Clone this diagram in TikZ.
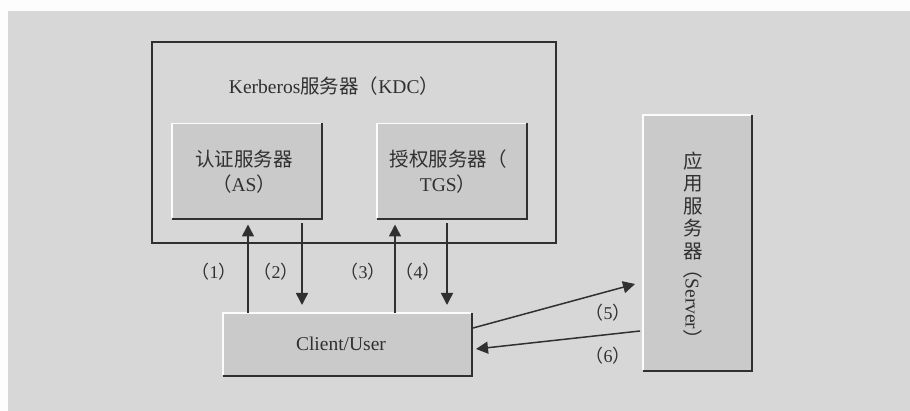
\documentclass[tikz,border=0pt]{standalone}
\usepackage{fontspec}
\setmainfont{Liberation Serif}
\newfontfamily\cjk{Noto Sans CJK SC}
\usetikzlibrary{arrows.meta,calc}
\definecolor{bggray}{HTML}{D7D7D7}
\definecolor{boxgray}{HTML}{CACACA}
\definecolor{ink}{HTML}{303030}
\begin{document}
\begin{tikzpicture}[x=1pt,y=-1pt,
  txt/.style={font=\fontsize{19.5}{22}\selectfont, text=ink},
  lbl/.style={font=\fontsize{18}{22}\selectfont, text=ink},
  srvbox/.style={rectangle, fill=boxgray, draw=none, inner sep=0pt, outer sep=0pt, align=center},
  kdcbox/.style={rectangle, draw=ink, line width=1.4pt, inner sep=0pt, outer sep=0pt},
  shade/.style={draw=ink, line width=1.6pt},
  hilite/.style={draw=white!92!bggray, line width=1.2pt},
  arr/.style={draw=ink, line width=1.5pt, -{Triangle[length=12pt,width=12pt]}}
]
\useasboundingbox (0,0) rectangle (910,411);
% background
\fill[white!96!bggray] (0,0) rectangle (910,411);
\fill[bggray] (8,11) rectangle (910,411);

% KDC container
\node[kdcbox, minimum width=404pt, minimum height=201pt] (kdc) at (354,142.5) {};
\node[txt] (kdct) at (334,86) {Kerberos{\cjk 服务器（}KDC{\cjk ）}};

% AS, TGS, client, server
\node[srvbox, minimum width=149pt, minimum height=95pt] (as) at (246.5,171) {};
\node[srvbox, minimum width=149pt, minimum height=95pt] (tgs) at (451.5,171) {};
\node[srvbox, minimum width=248pt, minimum height=62pt] (client) at (347,344) {};
\node[srvbox, minimum width=108pt, minimum height=255pt] (server) at (697,242.5) {};

\foreach \b in {as,tgs,client,server}{
  \draw[hilite] (\b.south west) -- (\b.north west) -- (\b.north east);
  \draw[shade] ([xshift=0.8pt]\b.north east) -- ([shift={(0.8pt,-0.8pt)}]\b.south east) -- ([yshift=-0.8pt]\b.south west);
}

\node[txt, align=center] (ast) at (244,172) {{\cjk 认证服务器}\\[3pt]{\cjk （}AS{\cjk ）}};
\node[txt, align=center] (tgst) at (448,172) {{\cjk 授权服务器（}\\[3pt]TGS{\cjk ）}};
\node[txt] (clientt) at (341,344) {Client/User};
\node[txt, align=center, font=\cjk\fontsize{19.5}{22.5}\selectfont] (srvt) at (693,206) {应\\用\\服\\务\\器};
\node[txt, rotate=-90] (srvt2) at (693,304) {{\cjk （}Server{\cjk ）}};

% vertical arrows
\coordinate (x1) at (248,0);
\coordinate (x2) at (302,0);
\coordinate (x3) at (395,0);
\coordinate (x4) at (447,0);
\draw[arr] (x1 |- client.north) -- ($(x1 |- as.south)+(0,6)$);
\draw[arr] ($(x2 |- as.south)+(0,5)$) -- ($(x2 |- client.north)+(0,-8)$);
\draw[arr] (x3 |- client.north) -- ($(x3 |- tgs.south)+(0,6)$);
\draw[arr] ($(x4 |- tgs.south)+(0,5)$) -- ($(x4 |- client.north)+(0,-8)$);

\node[lbl] (l1) at (214,272) {{\cjk （}1{\cjk ）}};
\node[lbl] (l2) at (276,272) {{\cjk （}2{\cjk ）}};
\node[lbl] (l3) at (363,272) {{\cjk （}3{\cjk ）}};
\node[lbl] (l4) at (418,272) {{\cjk （}4{\cjk ）}};

% client <-> server arrows
\coordinate (c5s) at ($(client.east)+(2,-16)$);
\coordinate (s5e) at ($(server.west)+(-8,41.5)$);
\coordinate (s6s) at ($(server.west)+(-3,88.5)$);
\coordinate (c6e) at ($(client.east)+(5,5)$);
\draw[arr] (c5s) -- (s5e);
\draw[arr] (s6s) -- (c6e);
\node[lbl] (l5) at (608,313) {{\cjk （}5{\cjk ）}};
\node[lbl] (l6) at (608,356) {{\cjk （}6{\cjk ）}};
\end{tikzpicture}
\end{document}
